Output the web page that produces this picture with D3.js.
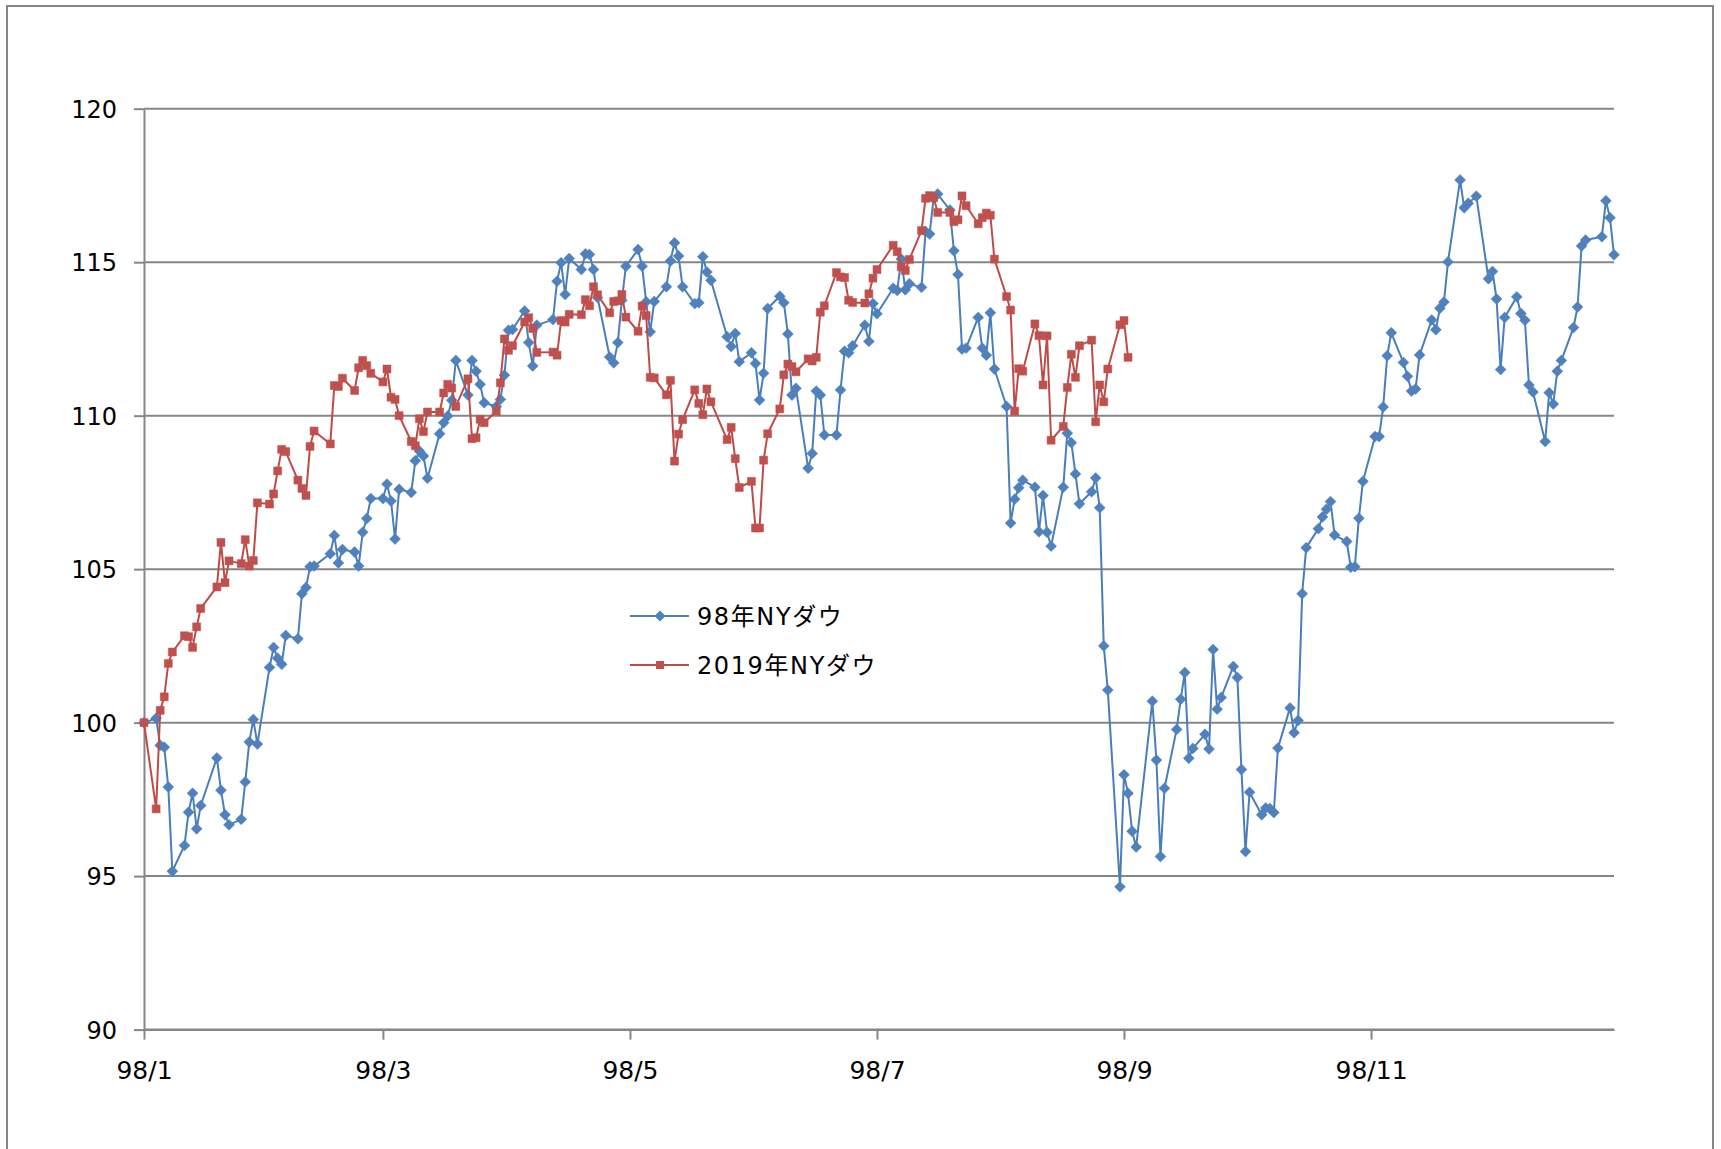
<!DOCTYPE html>
<html><head><meta charset="utf-8">
<script src="https://cdn.jsdelivr.net/npm/d3@7"></script>
<style>body{margin:0;background:#fff}svg{display:block}</style>
</head><body>
<svg id="chart" width="1721" height="1149"></svg>
<script>
// 1998 trading days (x categories shared by both series)
const tradeDays = [
"1/2","1/5","1/6","1/7","1/8","1/9","1/12","1/13","1/14","1/15","1/16","1/20","1/21","1/22","1/23","1/26","1/27","1/28","1/29","1/30",
"2/2","2/3","2/4","2/5","2/6","2/9","2/10","2/11","2/12","2/13","2/17","2/18","2/19","2/20","2/23","2/24","2/25","2/26","2/27",
"3/2","3/3","3/4","3/5","3/6","3/9","3/10","3/11","3/12","3/13","3/16","3/17","3/18","3/19","3/20","3/23","3/24","3/25","3/26","3/27","3/30","3/31",
"4/1","4/2","4/3","4/6","4/7","4/8","4/9","4/13","4/14","4/15","4/16","4/17","4/20","4/21","4/22","4/23","4/24","4/27","4/28","4/29","4/30",
"5/1","5/4","5/5","5/6","5/7","5/8","5/11","5/12","5/13","5/14","5/15","5/18","5/19","5/20","5/21","5/22","5/26","5/27","5/28","5/29",
"6/1","6/2","6/3","6/4","6/5","6/8","6/9","6/10","6/11","6/12","6/15","6/16","6/17","6/18","6/19","6/22","6/23","6/24","6/25","6/26","6/29","6/30",
"7/1","7/2","7/6","7/7","7/8","7/9","7/10","7/13","7/14","7/15","7/16","7/17","7/20","7/21","7/22","7/23","7/24","7/27","7/28","7/29","7/30","7/31",
"8/3","8/4","8/5","8/6","8/7","8/10","8/11","8/12","8/13","8/14","8/17","8/18","8/19","8/20","8/21","8/24","8/25","8/26","8/27","8/28","8/31",
"9/1","9/2","9/3","9/4","9/8","9/9","9/10","9/11","9/14","9/15","9/16","9/17","9/18","9/21","9/22","9/23","9/24","9/25","9/28","9/29","9/30",
"10/1","10/2","10/5","10/6","10/7","10/8","10/9","10/12","10/13","10/14","10/15","10/16","10/19","10/20","10/21","10/22","10/23","10/26","10/27","10/28","10/29","10/30",
"11/2","11/3","11/4","11/5","11/6","11/9","11/10","11/11","11/12","11/13","11/16","11/17","11/18","11/19","11/20","11/23","11/24","11/25","11/27","11/30",
"12/1","12/2","12/3","12/4","12/7","12/8","12/9","12/10","12/11","12/14","12/15","12/16","12/17","12/18","12/21","12/22","12/23","12/24","12/28","12/29","12/30","12/31"
];

// 98年NYダウ (index, 1998/1/2 = 100)
const dow1998 = [
100,100.14,99.26,99.2,97.9,95.16,96.0,97.08,97.7,96.54,97.3,98.85,97.8,97.0,96.67,96.85,98.07,99.37,100.1,99.3,
101.8,102.45,102.1,101.9,102.84,102.73,104.2,104.4,105.08,105.1,105.5,106.1,105.2,105.64,105.56,105.1,106.2,106.65,107.3,
107.3,107.77,107.22,105.98,107.6,107.5,108.53,108.85,108.69,107.96,109.41,109.77,109.99,110.5,111.8,110.67,111.8,111.45,111.02,110.42,110.3,110.53,
111.32,112.78,112.81,113.41,112.38,111.62,112.95,113.13,114.38,114.98,113.95,115.12,114.76,115.27,115.25,114.76,113.85,111.91,111.72,112.38,113.76,
114.87,115.41,114.87,113.71,112.73,113.72,114.2,115.04,115.63,115.2,114.2,113.65,113.68,115.18,114.68,114.41,112.57,112.25,112.68,111.76,
112.05,111.7,110.51,111.38,113.49,113.89,113.68,112.66,110.67,110.89,108.29,108.77,110.8,110.67,109.37,109.37,110.84,112.1,112.05,112.28,112.95,112.42,
113.65,113.32,114.15,114.08,115.1,114.1,114.3,114.18,116.0,115.92,117.1,117.22,116.7,115.37,114.6,112.17,112.2,113.2,112.2,111.97,113.35,111.52,
110.3,106.5,107.28,107.65,107.9,107.67,106.22,107.4,106.2,105.75,107.67,109.43,109.12,108.1,107.13,107.52,107.97,107.0,102.5,101.06,94.65,
98.3,97.7,96.46,95.95,100.7,98.78,95.64,97.86,99.78,100.76,101.63,98.84,99.16,99.62,99.14,102.38,100.44,100.82,101.83,101.47,98.47,
95.8,97.73,97.0,97.22,97.2,97.07,99.17,100.48,99.67,100.07,104.2,105.7,106.32,106.7,106.95,107.2,106.11,105.9,105.06,105.08,106.66,107.86,
109.32,109.32,110.28,111.95,112.7,111.73,111.28,110.8,110.87,111.98,113.12,112.8,113.5,113.7,115.01,117.68,116.77,116.92,117.15,114.46,
114.7,113.8,111.5,113.2,113.87,113.33,113.11,111.0,110.77,109.16,110.75,110.38,111.45,111.8,112.87,113.54,115.53,115.72,115.83,117.0,116.45,115.24
];

// 2019年NYダウ (index, 2019/1/2 = 100), plotted on the same rows
const dow2019 = [
100,97.19,100.4,100.84,101.93,102.3,102.83,102.8,102.45,103.12,103.72,104.42,105.87,104.56,105.27,105.18,105.96,105.1,105.28,107.16,107.12,
107.45,108.2,108.9,108.83,107.9,107.63,107.4,109.0,109.5,109.08,110.98,110.95,111.22,110.82,111.56,111.8,111.63,111.38,111.1,
111.52,110.6,110.53,110.0,109.16,109.02,109.9,109.48,110.12,110.12,110.74,111.02,110.9,110.3,111.2,109.25,109.28,109.88,109.77,110.15,111.07,
112.5,112.13,112.28,113.05,113.19,112.84,112.06,112.07,111.97,113.1,113.05,113.3,113.29,113.78,113.58,114.2,113.94,113.35,113.72,113.74,113.95,
113.21,112.75,113.57,113.26,111.25,111.23,110.68,111.15,108.52,109.4,109.87,110.84,110.4,110.03,110.87,110.45,109.22,109.62,108.6,107.66,107.86,106.34,
106.34,108.55,109.41,110.22,111.33,111.68,111.6,111.43,111.85,111.78,111.9,113.37,113.58,114.66,114.52,114.5,113.76,113.69,113.67,113.97,
114.48,114.76,115.55,115.34,114.85,114.73,115.09,116.03,117.08,117.17,117.1,116.62,116.62,116.32,116.38,117.16,116.84,116.25,116.45,116.6,116.53,115.1,
113.88,113.44,110.15,111.53,111.45,112.99,112.61,111.0,112.6,109.2,109.65,110.92,112.0,111.25,112.28,112.46,109.8,111.0,110.45,111.52,112.96,113.1,
111.9
];

const yTicks = [90,95,100,105,110,115,120];
const xTickDays = ["1/2","3/2","5/2","7/2","9/1","11/1"];
const seriesNames = ["98年NYダウ","2019年NYダウ"];
const lineColors = ["#4A7EBB","#BE4B48"];
const markerColors = ["#4F81BD","#C0504D"];

(function () {
const parse = s => d3.timeParse("%Y/%m/%d")("1998/" + s);
const dates = tradeDays.map(parse);

const svg = d3.select("#chart");
const W = 1721, H = 1149;
const pL = 144, pR = 1614, pT = 108.7, pB = 1029.6;
const gridColor = "#868686";
const FONT = "'DejaVu Sans', 'Noto Sans CJK JP', sans-serif";

svg.append("rect").attr("width", W).attr("height", H).attr("fill", "#fff");
// outer chart frame
svg.append("rect").attr("x", 7).attr("y", 6).attr("width", 1706).attr("height", 1170)
  .attr("fill", "none").attr("stroke", gridColor).attr("stroke-width", 2);

const x = d3.scaleTime().domain([parse("1/2"), parse("12/31")]).range([pL, pR]);
const y = d3.scaleLinear().domain([90, 120]).range([pB, pT]);

// gridlines
svg.append("g").selectAll("line").data(yTicks).join("line")
  .attr("x1", pL).attr("x2", pR)
  .attr("y1", d => y(d)).attr("y2", d => y(d))
  .attr("stroke", gridColor).attr("stroke-width", 2);

// y axis
const yAxis = svg.append("g").attr("transform", `translate(${pL},0)`)
  .call(d3.axisLeft(y).tickValues(yTicks).tickSize(10).tickPadding(17).tickSizeOuter(0));
yAxis.select(".domain").attr("stroke", gridColor).attr("stroke-width", 2);
yAxis.selectAll(".tick line").attr("stroke", gridColor).attr("stroke-width", 2);
yAxis.selectAll("text").attr("font-family", FONT).attr("font-size", 24).attr("fill", "#000")
  .attr("dy", "0.36em");

// x axis
const xAxis = svg.append("g").attr("transform", `translate(0,${pB})`)
  .call(d3.axisBottom(x).tickValues(xTickDays.map(parse)).tickSize(10).tickPadding(22)
    .tickSizeOuter(0).tickFormat(d3.timeFormat("%y/%-m")));
xAxis.select(".domain").attr("stroke", gridColor).attr("stroke-width", 2);
xAxis.selectAll(".tick line").attr("stroke", gridColor).attr("stroke-width", 2);
xAxis.selectAll("text").attr("font-family", FONT).attr("font-size", 25).attr("fill", "#000");

// marker shapes
const diamond = { draw(ctx, size) { const r = Math.sqrt(size / 2);
  ctx.moveTo(0, -r); ctx.lineTo(r, 0); ctx.lineTo(0, r); ctx.lineTo(-r, 0); ctx.closePath(); } };
const symbols = [d3.symbol().type(diamond).size(60), d3.symbol().type(d3.symbolSquare).size(64)];

const series = [dow1998, dow2019];
const line = d3.line().x(d => x(d.date)).y(d => y(d.value));

series.forEach((vals, si) => {
  const pts = vals.map((v, i) => ({ date: dates[i], value: v }));
  const g = svg.append("g");
  g.append("path").datum(pts).attr("d", line).attr("fill", "none")
    .attr("stroke", lineColors[si]).attr("stroke-width", 2).attr("stroke-linejoin", "round");
  g.selectAll("path.m").data(pts).join("path").attr("class", "m")
    .attr("transform", d => `translate(${x(d.date)},${y(d.value)})`)
    .attr("d", symbols[si]()).attr("fill", markerColors[si]).attr("stroke", markerColors[si]).attr("stroke-width", 0.5);
});

// legend
const legend = svg.append("g");
const legY = [616, 665];
seriesNames.forEach((name, i) => {
  legend.append("line").attr("x1", 630).attr("x2", 689).attr("y1", legY[i]).attr("y2", legY[i])
    .attr("stroke", lineColors[i]).attr("stroke-width", 2);
  legend.append("path").attr("transform", `translate(660,${legY[i]})`).attr("d", symbols[i]())
    .attr("fill", markerColors[i]);
  legend.append("text").attr("x", 697).attr("y", legY[i]).attr("dy", "0.36em")
    .attr("font-family", FONT).attr("font-size", 24).attr("letter-spacing", "1.6px")
    .attr("fill", "#000").text(name);
});
})();
</script>
</body></html>
